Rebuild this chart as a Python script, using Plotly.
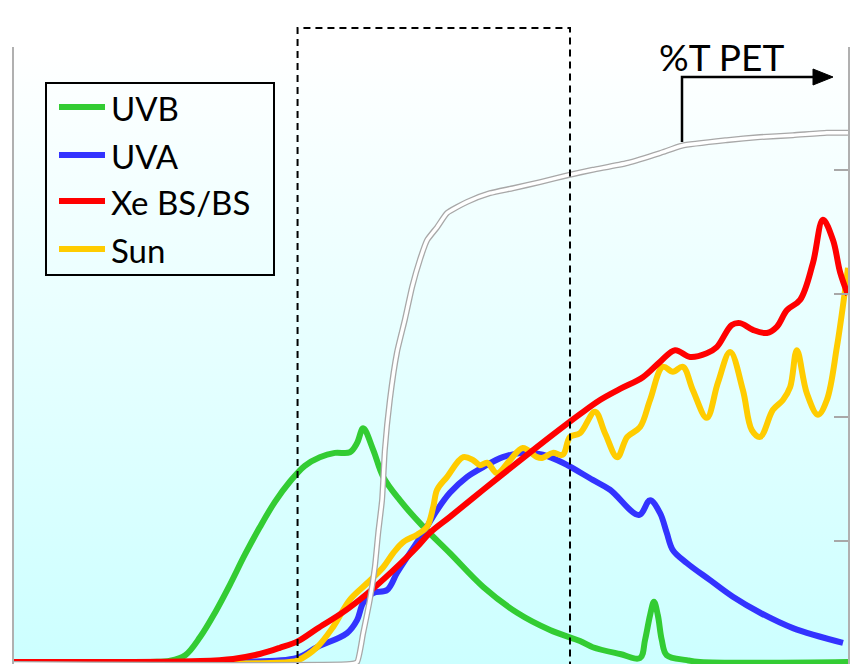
import plotly.graph_objects as go

# ---- spectral data (wavelength in nm, relative irradiance) ----
uvb_nm = [250, 274.5, 278.1, 280.8, 283.5, 286.2, 288.8, 291.5, 294.2, 296.9, 299.6,
          302.3, 305.0, 307.7, 310.4, 311.7, 312.8, 314.6, 316.4, 319.4, 323.6,
          328.4, 334.4, 340.5, 346.4, 351.8, 354.1, 359.0, 362.6, 363.5, 364.4,
          365.1, 365.8, 366.5, 367.4, 371.0, 373.4, 400]
uvb_val = [0, 0, 0.2, 1.1, 4.1, 8.1, 12.5, 17.4, 21.9, 26.0, 29.3,
           31.9, 33.3, 34.0, 34.1, 35.6, 38.0, 34.5, 30.1, 26.3, 22.0,
           17.7, 12.2, 8.0, 5.2, 3.4, 2.4, 1.3, 0.65, 3.6, 7.6,
           9.8, 7.6, 3.6, 1.1, 0.3, 0, 0]

uva_nm = [250, 290.0, 300.9, 304.5, 309.9, 311.7, 312.8, 314.6, 317.1, 318.9, 321.2,
          323.6, 326.1, 328.4, 331.5, 334.4, 337.9, 341.5, 345.1, 348.7, 354.1,
          357.2, 362.4, 364.4, 366.2, 367.4, 368.5, 371.0, 375.2, 379.3, 384.2,
          390.1, 399.1]
uva_val = [0, 0, 0.65, 2.4, 4.7, 6.8, 9.6, 11.2, 11.7, 14.5, 17.7,
           21.0, 24.7, 27.5, 30.1, 31.7, 33.3, 34.0, 33.7, 32.4, 29.6,
           28.0, 23.9, 26.3, 24.2, 21.0, 18.2, 16.1, 13.3, 10.6, 8.0,
           5.5, 3.1]

xe_nm = [250, 283.5, 289.4, 294.2, 297.8, 301.1, 304.5, 309.2, 313.5, 318.2, 322.5,
         324.8, 328.4, 334.4, 340.5, 346.4, 351.8, 355.4, 359.0, 363.1, 366.2,
         368.9, 371.6, 374.6, 376.4, 379.1, 380.6, 382.9, 385.4, 387.2, 389.0,
         391.4, 393.7, 395.5, 397.3, 398.6, 400]
xe_val = [0, 0.16, 0.5, 1.3, 2.3, 3.4, 5.4, 8.1, 11.1, 14.9, 18.7,
          21.0, 23.6, 28.0, 32.4, 36.6, 40.3, 42.6, 44.4, 46.3, 48.8,
          50.7, 49.6, 50.2, 51.2, 54.8, 55.1, 54.0, 53.5, 54.5, 57.2,
          58.9, 64.9, 71.9, 68.6, 63.3, 59.7]

sun_nm = [250, 299.6, 301.1, 304.5, 307.4, 310.4, 313.5, 316.4, 318.2, 320.0, 322.5,
          324.3, 325.4, 326.1, 327.9, 330.8, 332.6, 333.8, 335.1, 336.9, 339.2,
          341.5, 344.1, 345.1, 346.9, 348.7, 350.0, 351.8, 354.5, 356.3, 358.5,
          360.3, 362.6, 364.4, 366.7, 368.5, 370.3, 372.1, 374.6, 376.6, 378.8,
          381.1, 382.7, 384.2, 386.5, 388.3, 389.6, 390.8, 392.6, 394.6, 396.2,
          398.0, 400]
sun_val = [0, 0, 0.3, 2.4, 5.7, 10.1, 12.8, 15.4, 17.7, 19.5, 20.7,
           22.0, 25.2, 28.0, 30.1, 33.3, 32.8, 32.0, 32.4, 30.7, 32.8,
           34.8, 33.3, 33.2, 34.0, 33.7, 36.6, 37.2, 40.7, 37.2, 33.3,
           36.6, 38.2, 42.6, 48.0, 47.2, 48.0, 44.2, 39.7, 45.4, 50.4,
           44.2, 37.7, 36.6, 41.0, 42.6, 44.7, 50.7, 43.7, 40.2, 42.6,
           51.2, 64.1]

# PET film transmission (%T), right-hand axis
pet_nm = [250, 310.4, 311.7, 312.8, 314.0, 314.9, 315.5, 316.2, 316.7, 317.6, 318.9,
          320.3, 321.6, 323.0, 324.3, 326.1, 327.9, 331.5, 335.6, 339.7, 344.6,
          350.0, 354.1, 360.3, 366.2, 370.1, 378.2, 384.2, 390.1, 396.2, 400]
pet_t = [0, 0, 0.3, 5.0, 10.4, 15.7, 21.2, 26.6, 34.7, 42.8, 50.6,
         55.8, 61.1, 65.5, 68.7, 70.8, 73.1, 74.9, 76.3, 77.1, 78.1,
         79.3, 80.1, 81.2, 82.8, 84.0, 84.9, 85.4, 85.7, 86.1, 86.1]

series_names = ["UVB", "UVA", "Xe BS/BS", "Sun"]
series_colors = ["#33cc33", "#3333ff", "#ff0000", "#ffcc00"]
pet_label = "%T PET"

X_RANGE = [250, 400]
Y_RANGE = [-0.33, 100]
Y2_RANGE = [0, 100]
BOX_NM = [301, 350]

W, H = 858, 664
ML, MR, MT, MB = 14, 10, 47, 0
plot_w = W - ML - MR
plot_h = H - MT - MB


def px(x):
    return (x - ML) / plot_w


def py(y):
    return (H - MB - y) / plot_h


fig = go.Figure()

# gradient backdrop of the plotting area
fig.add_trace(go.Scatter(
    x=[X_RANGE[0], X_RANGE[1], X_RANGE[1], X_RANGE[0], X_RANGE[0]],
    y=[Y_RANGE[0], Y_RANGE[0], Y_RANGE[1], Y_RANGE[1], Y_RANGE[0]],
    mode="none", fill="toself",
    fillgradient=dict(type="vertical",
                      colorscale=[[0, "#ccffff"], [1, "#ffffff"]]),
    hoverinfo="skip", showlegend=False,
))

# PET transmission: grey outline with white core
fig.add_trace(go.Scatter(x=pet_nm, y=pet_t, yaxis="y2", mode="lines",
                         line=dict(color="#a8a8a8", width=6, shape="spline", smoothing=0.5),
                         name=pet_label, showlegend=False, hoverinfo="skip"))
fig.add_trace(go.Scatter(x=pet_nm, y=pet_t, yaxis="y2", mode="lines",
                         line=dict(color="#ffffff", width=3.4, shape="spline", smoothing=0.5),
                         name=pet_label, showlegend=False))

spectra = [(uvb_nm, uvb_val), (uva_nm, uva_val), (sun_nm, sun_val), (xe_nm, xe_val)]
order = [0, 1, 3, 2]
for (xs, ys), idx in zip(spectra, order):
    fig.add_trace(go.Scatter(
        x=xs, y=ys, mode="lines", name=series_names[idx],
        line=dict(color=series_colors[idx], width=6, shape="spline", smoothing=1.0),
        showlegend=False,
    ))

shapes = []
annotations = []

# dashed window
shapes.append(dict(type="rect", xref="paper", yref="paper",
                   x0=(BOX_NM[0] - X_RANGE[0]) / (X_RANGE[1] - X_RANGE[0]),
                   x1=(BOX_NM[1] - X_RANGE[0]) / (X_RANGE[1] - X_RANGE[0]),
                   y0=py(H + 20), y1=py(28),
                   line=dict(color="black", width=2, dash="7px,5px"),
                   fillcolor="rgba(0,0,0,0)", layer="above"))

# legend box
shapes.append(dict(type="rect", xref="paper", yref="paper",
                   x0=px(46), x1=px(274), y0=py(275), y1=py(83),
                   line=dict(color="black", width=2),
                   fillcolor="rgba(0,0,0,0)", layer="above"))
entry_y = [107, 155, 201, 249]
for name, color, ey in zip(series_names, series_colors, entry_y):
    shapes.append(dict(type="line", xref="paper", yref="paper",
                       x0=px(59), x1=px(105), y0=py(ey), y1=py(ey),
                       line=dict(color=color, width=6), layer="above"))
    annotations.append(dict(xref="paper", yref="paper", x=px(109), y=py(ey + 1),
                            xanchor="left", yanchor="middle", text=name,
                            showarrow=False,
                            font=dict(family="Lato", size=33, color="black")))

# %T PET pointer
shapes.append(dict(type="path", xref="paper", yref="paper",
                   path=f"M {px(682)},{py(142)} L {px(682)},{py(77)} L {px(816)},{py(77)}",
                   line=dict(color="black", width=2.5), layer="above"))
shapes.append(dict(type="path", xref="paper", yref="paper",
                   path=f"M {px(813)},{py(69)} L {px(833)},{py(77)} L {px(813)},{py(85)} Z",
                   line=dict(color="black", width=1), fillcolor="black", layer="above"))
annotations.append(dict(xref="paper", yref="paper", x=px(657), y=py(56),
                        xanchor="left", yanchor="middle", text=pet_label,
                        showarrow=False,
                        font=dict(family="Lato", size=37, color="black")))

fig.update_layout(
    width=W, height=H,
    margin=dict(l=ML, r=MR, t=MT, b=MB, pad=0),
    paper_bgcolor="white", plot_bgcolor="rgba(0,0,0,0)",
    showlegend=False,
    shapes=shapes, annotations=annotations,
    xaxis=dict(range=X_RANGE, showline=False, showgrid=False, zeroline=False,
               showticklabels=False, ticks=""),
    yaxis=dict(range=Y_RANGE, showline=True, linecolor="#b0b0b0", linewidth=1.5,
               showgrid=False, zeroline=False, showticklabels=False, ticks=""),
    yaxis2=dict(range=Y2_RANGE, overlaying="y", side="right", showline=True,
                linecolor="#b0b0b0", linewidth=1.5, showgrid=False, zeroline=False,
                showticklabels=False, ticks="inside", ticklen=14, tickwidth=2,
                tickcolor="#a8a8a8", dtick=20),
)

fig.write_html("out.html")
